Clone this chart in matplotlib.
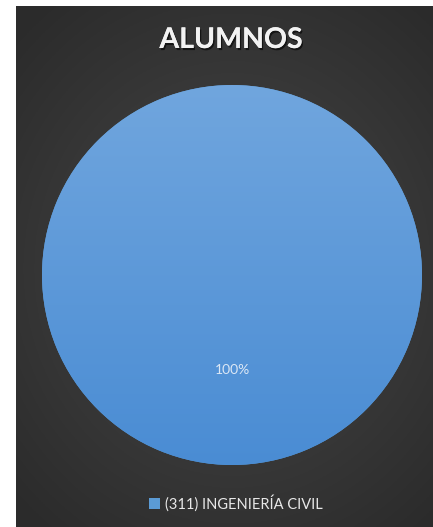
import numpy as np
import matplotlib
matplotlib.use("Agg")
import matplotlib.pyplot as plt
import matplotlib.patheffects as pe

# data
categories = ["(311) INGENIERÍA CIVIL"]
values = [100]
title = "ALUMNOS"

plt.rcParams['font.family'] = ['Lato', 'DejaVu Sans']

W, H = 433, 527
fig = plt.figure(figsize=(W / 100, H / 100), dpi=100)
fig.patch.set_facecolor('white')

# dark panel with soft radial gradient
bg = fig.add_axes([16 / W, -0.01, 1.0, 1 - 6 / H + 0.01])
bg.set_axis_off()
yy, xx = np.mgrid[-1:1:300j, -1:1:300j]
r = np.sqrt(xx ** 2 + (yy * 1.1) ** 2)
shade = 0.28 - 0.11 * np.clip(r, 0, 1.4) / 1.4
img = np.dstack([shade, shade, shade])
bg.imshow(img, extent=[0, 1, 0, 1], aspect='auto', zorder=0)
bg.set_xlim(0, 1)
bg.set_ylim(0, 1)

# pie
ax = fig.add_axes([42 / W, 62 / H, 380 / W, 380 / H])
wedges, texts, autotexts = ax.pie(values, colors=['#5b9bd5'], startangle=90,
                                  autopct='%1.0f%%', pctdistance=0.5,
                                  textprops=dict(color='#dce8f5', fontsize=10))
ax.set_xlim(-1, 1)
ax.set_ylim(-1, 1)
ax.set_aspect('equal')

# vertical gradient inside the pie (lighter at top)
g = np.linspace(0, 1, 256)[:, None]
top = np.array([0.44, 0.65, 0.87])
bot = np.array([0.29, 0.55, 0.83])
grad = (bot + (top - bot) * g[:, :, None]) * np.ones((256, 2, 3))
im = ax.imshow(grad, extent=[-1, 1, -1, 1], origin='lower', aspect='auto', zorder=1)
im.set_clip_path(wedges[0])
for t in autotexts:
    t.set_zorder(3)

# title
fig.text(231 / W, 1 - 40 / H, title, ha='center', va='center', fontsize=20.5,
         fontweight='bold', color='#f2f2f2',
         path_effects=[pe.withSimplePatchShadow(offset=(1, -1.5), shadow_rgbFace='black', alpha=0.6),
                       pe.Normal()])

# legend
leg = fig.legend(wedges, categories, loc='center', bbox_to_anchor=(236 / W, 1 - 503 / H),
                 frameon=False, fontsize=10.5, labelcolor='#e8e8e8',
                 handlelength=0.75, handleheight=0.75, handletextpad=0.3)

fig.savefig('out.png', dpi=100, facecolor=fig.get_facecolor())
